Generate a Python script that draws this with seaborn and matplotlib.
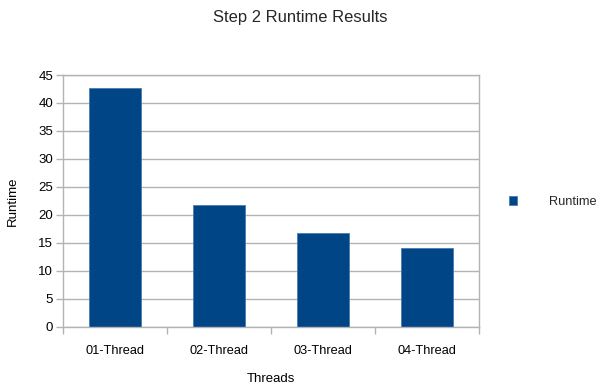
import matplotlib
matplotlib.use("Agg")
import matplotlib.pyplot as plt
import seaborn as sns
import pandas as pd

categories = ["01-Thread", "02-Thread", "03-Thread", "04-Thread"]
runtime = [42.6, 21.7, 16.8, 14.0]
series_name = "Runtime"
y_ticks = [0, 5, 10, 15, 20, 25, 30, 35, 40, 45]

df = pd.DataFrame({"Threads": categories, "Runtime": runtime, "series": series_name})

sns.set_theme(style="white")
plt.rcParams["font.family"] = ["Liberation Sans", "DejaVu Sans"]

bar_color = "#004586"
grid_color = "#b3b3b3"

fig = plt.figure(figsize=(6.02, 3.88), dpi=100)
ax = fig.add_axes([63 / 602, 1 - 326.7 / 388, (479 - 63) / 602, (326.7 - 75) / 388])

sns.barplot(data=df, x="Threads", y="Runtime", hue="series", palette=[bar_color],
            width=0.5, ax=ax, saturation=1, edgecolor="#4a7bb0", linewidth=0.6)

ax.set_ylim(0, 45)
ax.set_xlim(-0.5, len(categories) - 0.5)
ax.set_yticks(y_ticks)
ax.yaxis.grid(True, color=grid_color, linewidth=1.0)
ax.set_axisbelow(True)

for s in ax.spines.values():
    s.set_color(grid_color)
    s.set_linewidth(1.0)

# category ticks sit on the boundaries between groups
ax.set_xticks([i - 0.5 for i in range(len(categories) + 1)], minor=False)
ax.set_xticklabels([])
ax.set_xticks(range(len(categories)), minor=True)
ax.set_xticklabels(categories, minor=True)
ax.tick_params(axis="x", which="major", bottom=True, length=5, color=grid_color, width=1)
ax.tick_params(axis="x", which="minor", bottom=False, length=0, labelsize=9.2, pad=13, labelcolor="#000000")
ax.tick_params(axis="y", left=True, length=5, color=grid_color, width=1, labelsize=9.5, pad=2, labelcolor="#000000")

ax.set_xlabel("Threads", fontsize=9.5, labelpad=12, color="#000000")
ax.set_ylabel("Runtime", fontsize=9.5, labelpad=14, color="#000000")

fig.suptitle("Step 2 Runtime Results", x=300 / 602, y=1 - 10 / 388, va="top", fontsize=11.9)

leg = ax.legend(loc="center left", bbox_to_anchor=(509 / 602, 1 - 202 / 388),
                bbox_transform=fig.transFigure, frameon=False, fontsize=9.2,
                handlelength=0.6, handleheight=0.6, handletextpad=2.5,
                borderpad=0, borderaxespad=0)

fig.savefig("out.png", dpi=100)
